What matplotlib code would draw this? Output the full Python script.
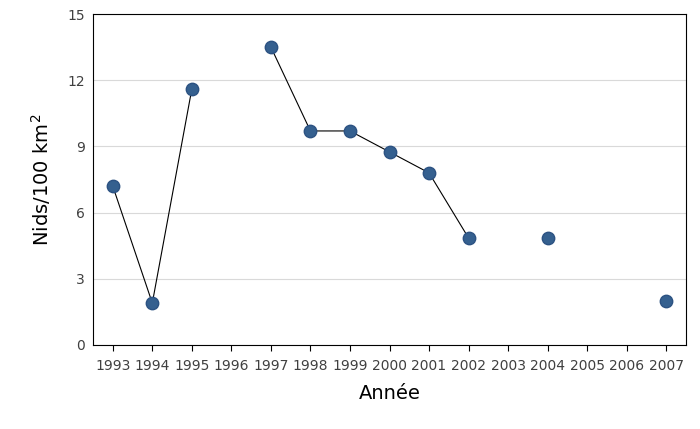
import matplotlib
matplotlib.use("Agg")
import matplotlib.pyplot as plt
import numpy as np

years = ["1993","1994","1995","1996","1997","1998","1999","2000","2001","2002","2003","2004","2005","2006","2007"]
values = [7.2, 1.9, 11.6, np.nan, 13.5, 9.7, 9.7, 8.75, 7.8, 4.85, np.nan, 4.85, np.nan, np.nan, 2.0]

fig = plt.figure(figsize=(7, 4.29), dpi=100)
ax = fig.add_axes([93/700, 1-345/429, (686-93)/700, (345-14)/429])
x = np.arange(len(years))
ax.plot(x, values, color="black", lw=0.8, zorder=2)
ax.scatter(x, values, s=80, color="#35608f", edgecolor="#2c5282", zorder=3)
ax.set_xlim(-0.5, len(years)-0.5)
ax.set_ylim(0, 15)
ax.set_yticks([0, 3, 6, 9, 12, 15])
ax.set_xticks(x)
ax.set_xticklabels(years)
ax.grid(axis="y", color="#d9d9d9", lw=0.8)
ax.set_axisbelow(True)
for s in ax.spines.values():
    s.set_color("black"); s.set_linewidth(0.8)
ax.tick_params(axis="both", labelsize=10, colors="#404040", length=0, pad=6)
ax.tick_params(axis="x", length=4, direction="out", color="black")
ax.set_xlabel("Année", fontsize=14, labelpad=8)
ax.set_ylabel("Nids/100 km$^2$", fontsize=14, labelpad=10)
fig.savefig("out.png", dpi=100)
